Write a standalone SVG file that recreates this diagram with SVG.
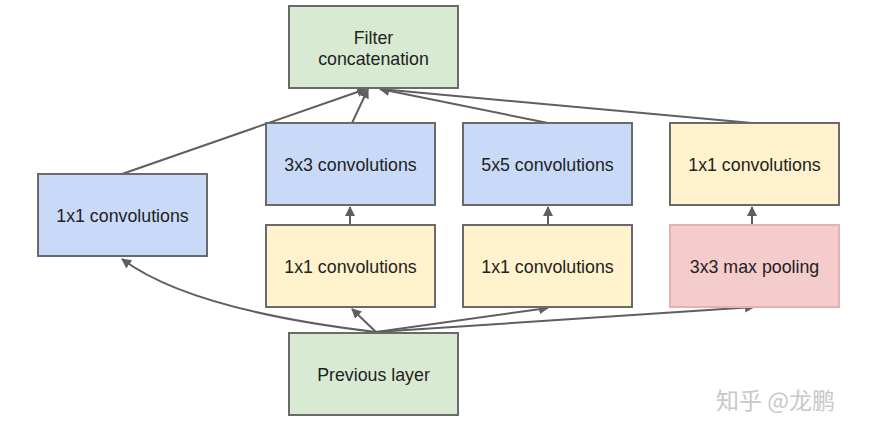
<svg xmlns="http://www.w3.org/2000/svg" width="876" height="431" viewBox="0 0 876 431">
<defs>
<marker id="ah" viewBox="0 0 10 10" refX="9" refY="5" markerWidth="10" markerHeight="10" markerUnits="userSpaceOnUse" orient="auto">
<path d="M0,0 L10,5 L0,10 z" fill="#5f5f5f"/>
</marker>
<style>
.box{stroke:#6a6a6a;stroke-width:2}
.g{fill:#d9ead3}.b{fill:#c9daf8}.y{fill:#fff2cc}.p{fill:#f4cccc;stroke:#e3b3b3}
.t{font-family:"Liberation Sans",Arial,sans-serif;font-size:17.8px;fill:#222;text-anchor:middle}
.c{fill:none;stroke:#5f5f5f;stroke-width:2;marker-end:url(#ah)}
</style>
</defs>
<rect width="876" height="431" fill="#fff"/>
<g id="connectors">
<path class="c" d="M122,174 L366,89"/>
<path class="c" d="M352,123 L368,89"/>
<path class="c" d="M548,123 L380,89"/>
<path class="c" d="M752,123 L380,89"/>
<path class="c" d="M350,225 L350,207"/>
<path class="c" d="M548,225 L548,207"/>
<path class="c" d="M752,225 L752,207"/>
<path class="c" d="M376,332 Q190,310 122,259"/>
<path class="c" d="M376,332 L352,309"/>
<path class="c" d="M376,332 L548,308"/>
<path class="c" d="M376,332 L754,307"/>
</g>
<g id="filter"><rect class="box g" x="289" y="6" width="169" height="82"/><text class="t" x="373.5" y="44">Filter</text><text class="t" x="373.5" y="65">concatenation</text></g>
<g id="conv1x1_left"><rect class="box b" x="38" y="174" width="169" height="82"/><text class="t" x="122.5" y="222">1x1 convolutions</text></g>
<g id="conv3x3"><rect class="box b" x="266" y="123" width="169" height="82"/><text class="t" x="350.5" y="171">3x3 convolutions</text></g>
<g id="conv5x5"><rect class="box b" x="463" y="123" width="169" height="82"/><text class="t" x="547.5" y="171">5x5 convolutions</text></g>
<g id="conv1x1_right"><rect class="box y" x="670" y="123" width="169" height="82"/><text class="t" x="754.5" y="171">1x1 convolutions</text></g>
<g id="reduce3x3"><rect class="box y" x="266" y="225" width="169" height="82"/><text class="t" x="350.5" y="273">1x1 convolutions</text></g>
<g id="reduce5x5"><rect class="box y" x="463" y="225" width="169" height="82"/><text class="t" x="547.5" y="273">1x1 convolutions</text></g>
<g id="pool"><rect class="box p" x="670" y="225" width="169" height="82"/><text class="t" x="754.5" y="273">3x3 max pooling</text></g>
<g id="previous"><rect class="box g" x="289" y="333" width="169" height="82"/><text class="t" x="373.5" y="381">Previous layer</text></g>
<text x="716" y="409" font-family="'Noto Sans CJK SC',sans-serif" font-size="23" fill="#c8c8c8">知乎 @龙鹏</text>
</svg>
